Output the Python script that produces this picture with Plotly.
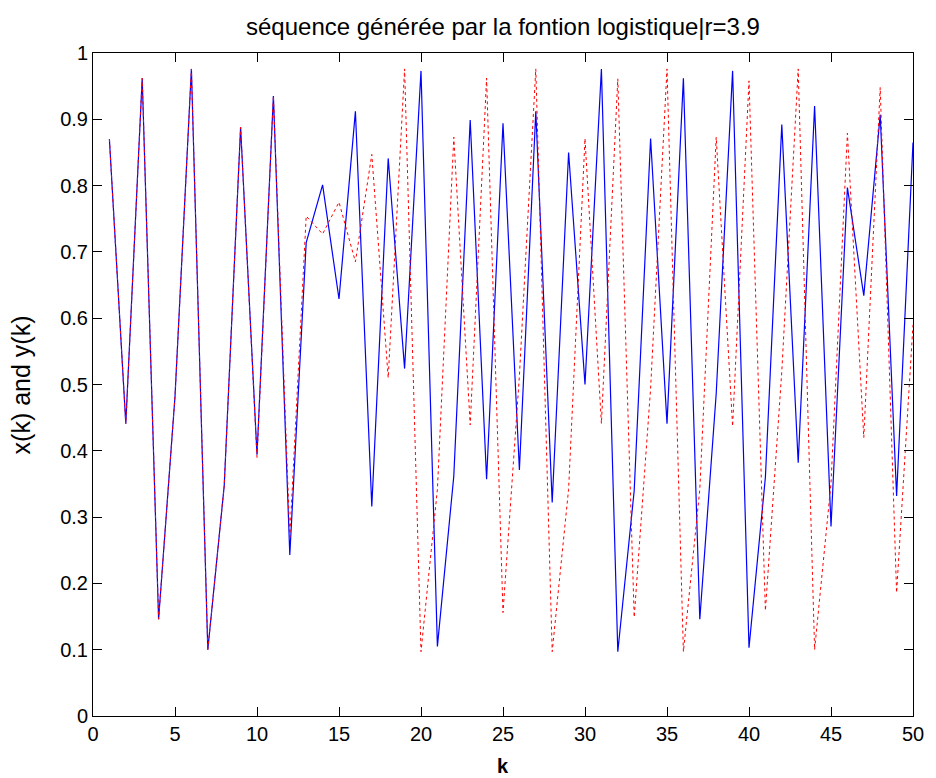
import plotly.graph_objects as go

k = list(range(1, 51))

# blue series x(k)
x_vals = [0.870, 0.441, 0.962, 0.146, 0.482, 0.976, 0.100, 0.347, 0.888, 0.394,
          0.935, 0.243, 0.714, 0.801, 0.629, 0.912, 0.316, 0.841, 0.524, 0.973,
          0.105, 0.362, 0.899, 0.357, 0.894, 0.371, 0.912, 0.322, 0.850, 0.500,
          0.976, 0.097, 0.340, 0.871, 0.441, 0.962, 0.146, 0.486, 0.973, 0.103,
          0.360, 0.892, 0.382, 0.920, 0.286, 0.797, 0.634, 0.907, 0.332, 0.865]

# red series y(k)
y_vals = [0.870, 0.441, 0.962, 0.146, 0.482, 0.976, 0.100, 0.347, 0.888, 0.390,
          0.935, 0.270, 0.754, 0.727, 0.775, 0.685, 0.847, 0.510, 0.976, 0.097,
          0.342, 0.873, 0.439, 0.962, 0.156, 0.513, 0.976, 0.097, 0.342, 0.871,
          0.441, 0.961, 0.149, 0.494, 0.976, 0.097, 0.342, 0.873, 0.437, 0.958,
          0.159, 0.520, 0.976, 0.100, 0.351, 0.879, 0.420, 0.948, 0.186, 0.590]

x_ticks = list(range(0, 51, 5))
y_ticks = [round(0.1 * i, 1) for i in range(11)]
y_tick_text = ["0", "0.1", "0.2", "0.3", "0.4", "0.5", "0.6", "0.7", "0.8", "0.9", "1"]

FONT = "Liberation Sans, Arial, sans-serif"

fig = go.Figure()
fig.add_trace(go.Scatter(x=k, y=x_vals, mode="lines",
                         line=dict(color="#0000ff", width=1.2), name="x(k)"))
fig.add_trace(go.Scatter(x=k, y=y_vals, mode="lines",
                         line=dict(color="#ff0000", width=1, dash="dot"), name="y(k)"))

L, R, T, B = 93, 18, 53, 62
H = 778
plot_h = H - T - B

fig.update_layout(
    width=936, height=778,
    margin=dict(l=L, r=R, t=T, b=B),
    paper_bgcolor="white", plot_bgcolor="white",
    showlegend=False,
    font=dict(family=FONT, size=20, color="black"),
    xaxis=dict(range=[0, 50], tickvals=x_ticks, ticks="inside", ticklen=9,
               tickcolor="black", showline=True, linecolor="black", linewidth=1,
               mirror="ticks", showgrid=False, zeroline=False,
               tickfont=dict(size=20, family=FONT)),
    yaxis=dict(range=[0, 1], tickvals=y_ticks, ticktext=y_tick_text, ticks="inside",
               ticklen=9, tickcolor="black", showline=True, linecolor="black",
               linewidth=1, mirror="ticks", showgrid=False, zeroline=False,
               tickfont=dict(size=20, family=FONT)),
    annotations=[
        dict(text="séquence générée par la fontion logistique|r=3.9", xref="paper",
             yref="paper", x=0.5, y=1 + (T - 27) / plot_h, xanchor="center",
             yanchor="middle", showarrow=False, font=dict(size=24, family=FONT)),
        dict(text="x(k) and y(k)", xref="paper", yref="paper",
             x=-(L - 21) / 825, y=(716 - 385) / plot_h, xanchor="center",
             yanchor="middle", textangle=-90, showarrow=False,
             font=dict(size=25, family=FONT)),
        dict(text="<b>k</b>", xref="paper", yref="paper", x=0.5,
             y=-(766 - 716) / plot_h, xanchor="center", yanchor="middle",
             showarrow=False, font=dict(size=20, family=FONT)),
    ],
)

fig.write_html("out.html")
